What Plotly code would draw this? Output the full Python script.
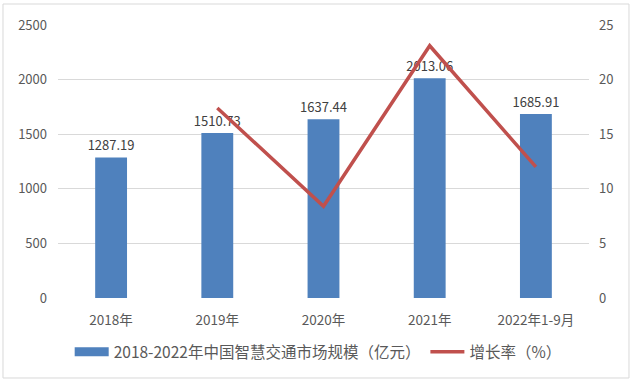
import plotly.graph_objects as go

categories = ["2018年", "2019年", "2020年", "2021年", "2022年1-9月"]
market_size = [1287.19, 1510.73, 1637.44, 2013.06, 1685.91]
growth_rate = [None, 17.4, 8.4, 23.1, 12.0]
size_labels = ["1287.19", "1510.73", "1637.44", "2013.06", "1685.91"]

FONT = "Noto Sans CJK SC, Lato, sans-serif"
BAR_NAME = "2018-2022年中国智慧交通市场规模（亿元）"
LINE_NAME = "增长率（%）"

fig = go.Figure()
fig.add_trace(go.Bar(
    x=categories, y=market_size, name=BAR_NAME, showlegend=False,
    marker=dict(color="#4F81BD", line=dict(width=0)), width=0.3,
    text=size_labels, textposition="outside", cliponaxis=False, constraintext="none",
    textfont=dict(size=13, color="#404040", family=FONT),
))
fig.add_trace(go.Scatter(
    x=categories, y=growth_rate, name=LINE_NAME, yaxis="y2", showlegend=False,
    mode="lines", line=dict(color="#C0504D", width=3.5), connectgaps=False,
))
# legend entries
fig.add_trace(go.Scatter(x=[None], y=[None], name=BAR_NAME, mode="lines",
                         line=dict(color="#4F81BD", width=9)))
fig.add_trace(go.Scatter(x=[None], y=[None], name=LINE_NAME, mode="lines",
                         line=dict(color="#C0504D", width=3.5)))

fig.update_layout(
    width=633, height=384,
    margin=dict(l=58, r=44, t=25, b=86),
    paper_bgcolor="white", plot_bgcolor="white",
    font=dict(family=FONT, size=13, color="#595959"),
    showlegend=True,
    legend=dict(orientation="h", x=0.49, xanchor="center", y=-0.198, yanchor="middle",
                font=dict(size=15.5, color="#595959"), itemwidth=34, traceorder="normal"),
    xaxis=dict(showgrid=False, showline=False, zeroline=False, ticks="",
               ticklabelstandoff=12, tickfont=dict(size=13.5, color="#595959")),
    yaxis=dict(range=[0, 2500], dtick=500, showgrid=True, gridcolor="#D9D9D9",
               gridwidth=1, zeroline=False, showline=False, ticks="",
               ticklabelstandoff=10, tickfont=dict(size=13, color="#595959")),
    yaxis2=dict(range=[0, 25], dtick=5, overlaying="y", side="right", showgrid=False,
                zeroline=False, showline=False, ticks="", ticklabelstandoff=9,
                tickfont=dict(size=13, color="#595959")),
    shapes=[dict(type="rect", xref="paper", yref="paper",
                 x0=-0.1036, x1=1.0753, y0=-0.293, y1=1.0769,
                 line=dict(color="#D9D9D9", width=1), fillcolor="rgba(0,0,0,0)")],
)

fig.write_html("out.html", config={"displayModeBar": False},
               post_script="document.body.style.margin='0';")
